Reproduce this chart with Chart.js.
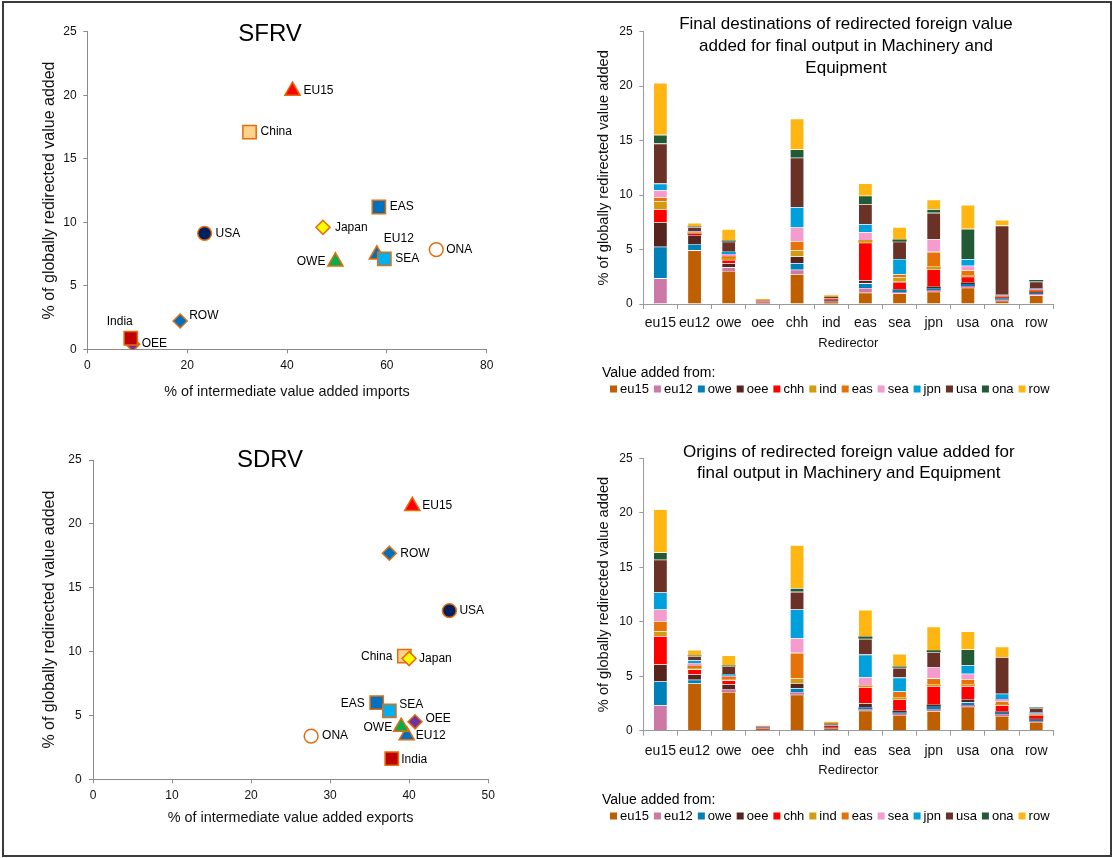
<!DOCTYPE html>
<html>
<head>
<meta charset="utf-8">
<script src="https://cdn.jsdelivr.net/npm/chart.js@4.4.1/dist/chart.umd.min.js"></script>
<style>
  html, body { margin: 0; padding: 0; background: #fff; }
  #wrap { position: relative; width: 1114px; height: 858px; overflow: hidden; background: #fff; }
  #frame { position: absolute; left: 2px; top: 1px; width: 1110px; height: 856px; border: 2px solid #3a3a3a; box-sizing: border-box; pointer-events: none; }
  canvas { position: absolute; }
</style>
</head>
<body>
<div id="wrap">
  <canvas id="sfrv" width="500" height="428" style="left:0;top:0"></canvas>
  <canvas id="dest" width="524" height="428" style="left:590px;top:0"></canvas>
  <canvas id="sdrv" width="500" height="428" style="left:0;top:430px"></canvas>
  <canvas id="orig" width="524" height="428" style="left:590px;top:430px"></canvas>
  <div id="frame"></div>
</div>
<script>
// ---- Scatter panels: regions and their coordinates ----
const countries   = ['EU15', 'EU12', 'OWE', 'OEE', 'China', 'India', 'EAS', 'SEA', 'Japan', 'USA', 'ONA', 'ROW'];
const sfrvImports = [41.1, 58.0, 49.7, 9.1, 32.5, 8.7, 58.4, 59.5, 47.2, 23.5, 69.9, 18.6];
const sfrvShare   = [20.35, 7.45, 6.9, 0.4, 17.1, 0.87, 11.2, 7.12, 9.6, 9.13, 7.85, 2.23];
const sdrvExports = [40.4, 39.7, 39.0, 40.75, 39.4, 37.8, 35.9, 37.5, 40.0, 45.1, 27.6, 37.5];
const sdrvShare   = [21.4, 3.45, 4.1, 4.5, 9.65, 1.62, 6.0, 5.35, 9.45, 13.2, 3.38, 17.7];
const sfrvTicksX  = [0, 20, 40, 60, 80];
const sdrvTicksX  = [0, 10, 20, 30, 40, 50];
const shareTicks  = [0, 5, 10, 15, 20, 25];

// ---- Bar panels: redirectors (categories) and value-added sources (series) ----
const redirectors   = ['eu15', 'eu12', 'owe', 'oee', 'chh', 'ind', 'eas', 'sea', 'jpn', 'usa', 'ona', 'row'];
const sourceRegions = ['eu15', 'eu12', 'owe', 'oee', 'chh', 'ind', 'eas', 'sea', 'jpn', 'usa', 'ona', 'row'];

// Final destinations: share contributed by each source, per redirector
const fdEu15 = [0, 4.93, 3.03, 0.10, 2.75, 0.15, 1.04, 0.98, 1.13, 1.50, 0.30, 0.80];
const fdEu12 = [2.36, 0, 0.34, 0.12, 0.40, 0.05, 0.43, 0.12, 0.15, 0.15, 0.09, 0.09];
const fdOwe  = [2.90, 0.58, 0, 0.02, 0.61, 0.05, 0.43, 0.18, 0.15, 0.18, 0.12, 0.12];
const fdOee  = [2.26, 0.83, 0.37, 0, 0.61, 0.08, 0.30, 0.06, 0.18, 0.15, 0.06, 0.06];
const fdChh  = [1.19, 0.12, 0.31, 0.02, 0, 0.10, 3.43, 0.70, 1.59, 0.52, 0.09, 0.09];
const fdInd  = [0.70, 0.05, 0.18, 0.01, 0.55, 0, 0.24, 0.40, 0.24, 0.15, 0.03, 0.03];
const fdEas  = [0.40, 0.05, 0.15, 0.01, 0.86, 0.05, 0, 0.31, 1.35, 0.46, 0.06, 0.09];
const fdSea  = [0.64, 0.10, 0.21, 0.01, 1.25, 0.04, 0.73, 0, 1.16, 0.40, 0.05, 0.09];
const fdJpn  = [0.61, 0.05, 0.21, 0.01, 1.87, 0.04, 0.73, 1.38, 0, 0.61, 0.04, 0.05];
const fdUsa  = [3.67, 0.34, 0.92, 0.04, 4.53, 0.08, 1.84, 1.59, 2.42, 0, 6.36, 0.64];
const fdOna  = [0.80, 0.06, 0.12, 0.01, 0.76, 0.02, 0.77, 0.21, 0.34, 2.78, 0, 0.15];
const fdRow  = [4.77, 0.34, 1.04, 0.10, 2.82, 0.14, 1.13, 1.13, 0.86, 2.20, 0.52, 0];

// Origins: share contributed by each source, per redirector
const orEu15 = [0, 4.34, 3.55, 0.15, 3.30, 0.15, 1.83, 1.44, 1.80, 2.20, 1.35, 0.80];
const orEu12 = [2.35, 0, 0.24, 0.08, 0.21, 0.06, 0.15, 0.12, 0.15, 0.15, 0.15, 0.09];
const orOwe  = [2.17, 0.34, 0, 0.04, 0.40, 0.05, 0.18, 0.12, 0.24, 0.28, 0.15, 0.12];
const orOee  = [1.59, 0.52, 0.49, 0, 0.46, 0.06, 0.34, 0.15, 0.21, 0.28, 0.12, 0.09];
const orChh  = [2.57, 0.43, 0.34, 0.04, 0, 0.10, 1.50, 1.04, 1.68, 1.19, 0.58, 0.24];
const orInd  = [0.43, 0.09, 0.09, 0.01, 0.43, 0, 0.15, 0.18, 0.15, 0.15, 0.09, 0.06];
const orEas  = [0.95, 0.24, 0.21, 0.02, 2.35, 0.06, 0, 0.55, 0.58, 0.49, 0.28, 0.09];
const orSea  = [1.07, 0.21, 0.12, 0.02, 1.35, 0.05, 0.76, 0, 1.04, 0.49, 0.18, 0.09];
const orJpn  = [1.56, 0.30, 0.15, 0.02, 2.63, 0.05, 2.08, 1.28, 0, 0.76, 0.49, 0.09];
const orUsa  = [3.00, 0.37, 0.70, 0.03, 1.62, 0.07, 1.44, 0.89, 1.35, 0, 3.37, 0.37];
const orOna  = [0.67, 0.06, 0.09, 0.01, 0.34, 0.02, 0.21, 0.12, 0.18, 1.47, 0, 0.09];
const orRow  = [3.94, 0.52, 0.92, 0.04, 3.94, 0.16, 2.45, 1.16, 2.17, 1.65, 0.95, 0];

const destinationSeries = [fdEu15, fdEu12, fdOwe, fdOee, fdChh, fdInd, fdEas, fdSea, fdJpn, fdUsa, fdOna, fdRow];
const originSeries      = [orEu15, orEu12, orOwe, orOee, orChh, orInd, orEas, orSea, orJpn, orUsa, orOna, orRow];

// ---- Styling ----
const FONT = "'Liberation Sans', Arial, Helvetica, sans-serif";
const TEXT = '#111';
const seriesColors = ['#C05F00', '#CC79A7', '#0080B8', '#56241C', '#FF0000', '#D49A10',
                      '#E8720A', '#F59CCF', '#00A0DC', '#6A3126', '#225A36', '#FFB612'];

const markerShapes = ['triangle', 'triangle', 'triangle', 'rectRot', 'rect', 'rect', 'rect', 'rect', 'rectRot', 'circle', 'circle', 'rectRot'];
const markerFills  = ['#FF0000', '#0070C0', '#00B050', '#7030A0', '#FBD38C', '#C00000', '#0070C0', '#00B0F0', '#FFFF00', '#002060', '#FFFFFF', '#0070C0'];
const markerRadii  = { triangle: 8.8, rect: 9.4, rectRot: 7.0, circle: 6.9 };
const markerEdge   = '#E46C0A';

// name label offsets around each marker (px)
const sfrvPlacement = [
  { dx: 11, dy: 0, align: 'left' },    // EU15
  { dx: 7, dy: -16, align: 'left' },   // EU12
  { dx: -10, dy: 0, align: 'right' },  // OWE
  { dx: 9, dy: -1, align: 'left' },    // OEE
  { dx: 11, dy: 0, align: 'left' },    // China
  { dx: -11, dy: -17, align: 'center' }, // India
  { dx: 11, dy: 0, align: 'left' },    // EAS
  { dx: 11, dy: 0, align: 'left' },    // SEA
  { dx: 12, dy: 0, align: 'left' },    // Japan
  { dx: 11, dy: 0, align: 'left' },    // USA
  { dx: 10, dy: 0, align: 'left' },    // ONA
  { dx: 9, dy: -5, align: 'left' }     // ROW
];
const sdrvPlacement = [
  { dx: 10, dy: 0, align: 'left' },    // EU15
  { dx: 9, dy: 0, align: 'left' },     // EU12
  { dx: -9, dy: 1, align: 'right' },   // OWE
  { dx: 10.5, dy: -3, align: 'left' }, // OEE
  { dx: -12, dy: 1, align: 'right' },  // China
  { dx: 9.5, dy: 1, align: 'left' },   // India
  { dx: -12, dy: 1, align: 'right' },  // EAS
  { dx: 10, dy: -6, align: 'left' },   // SEA
  { dx: 10, dy: 0, align: 'left' },    // Japan
  { dx: 10, dy: 0, align: 'left' },    // USA
  { dx: 11, dy: 0, align: 'left' },    // ONA
  { dx: 11, dy: 0, align: 'left' }     // ROW
];

Chart.defaults.font.family = FONT;
Chart.defaults.color = TEXT;

// Centered multi-line heading drawn over the plot area
function headingPlugin(lines, x, y, gap, size) {
  return {
    id: 'heading',
    afterDraw(chart) {
      const ctx = chart.ctx;
      ctx.save();
      ctx.font = size + 'px ' + FONT;
      ctx.fillStyle = '#000';
      ctx.textAlign = 'center';
      ctx.textBaseline = 'middle';
      lines.forEach((t, i) => ctx.fillText(t, x, y + i * gap));
      ctx.restore();
    }
  };
}

// Region names next to the scatter markers
function pointNamesPlugin(names, placement) {
  return {
    id: 'pointNames',
    afterDatasetsDraw(chart) {
      const ctx = chart.ctx;
      const meta = chart.getDatasetMeta(0);
      ctx.save();
      ctx.font = '12px ' + FONT;
      ctx.fillStyle = '#000';
      ctx.textBaseline = 'middle';
      meta.data.forEach((pt, i) => {
        const p = placement[i];
        ctx.textAlign = p.align;
        ctx.fillText(names[i], pt.x + p.dx, pt.y + p.dy);
      });
      ctx.restore();
    }
  };
}

// Single-row swatch legend built from the chart's datasets
function swatchLegendPlugin(title, titleX, titleY, itemX, itemY) {
  return {
    id: 'swatchLegend',
    afterDraw(chart) {
      const ctx = chart.ctx;
      ctx.save();
      ctx.textBaseline = 'middle';
      ctx.textAlign = 'left';
      ctx.fillStyle = '#000';
      ctx.font = '14px ' + FONT;
      ctx.fillText(title, titleX, titleY);
      ctx.font = '13px ' + FONT;
      let x = itemX;
      chart.data.datasets.forEach(ds => {
        ctx.fillStyle = ds.backgroundColor;
        ctx.fillRect(x, itemY - 3.5, 7, 7);
        ctx.fillStyle = '#000';
        ctx.fillText(ds.label, x + 10, itemY);
        x += 10 + ctx.measureText(ds.label).width + 5;
      });
      ctx.restore();
    }
  };
}

function scatterPanel(id, xs, ys, g) {
  const axisGray = '#8a8a8a';
  return new Chart(document.getElementById(id), {
    type: 'scatter',
    data: {
      datasets: [{
        data: xs.map((x, i) => ({ x: x, y: ys[i] })),
        pointStyle: markerShapes,
        pointRadius: markerShapes.map(s => markerRadii[s]),
        pointHoverRadius: markerShapes.map(s => markerRadii[s]),
        pointBackgroundColor: markerFills,
        pointBorderColor: markerEdge,
        pointBorderWidth: 1.5,
        backgroundColor: markerFills,
        borderColor: markerEdge
      }]
    },
    options: {
      responsive: false,
      animation: false,
      devicePixelRatio: 1,
      layout: { padding: { left: 0, top: g.top, right: g.right, bottom: g.bottom } },
      plugins: { legend: { display: false }, tooltip: { enabled: false } },
      scales: {
        x: {
          type: 'linear', min: g.xTicks[0], max: g.xTicks[g.xTicks.length - 1],
          afterBuildTicks: s => { s.ticks = g.xTicks.map(v => ({ value: v })); },
          ticks: { font: { size: 12 }, padding: g.xTickPad, color: TEXT },
          grid: { drawOnChartArea: false, tickLength: 4, color: axisGray },
          border: { color: axisGray, width: 1 },
          title: { display: true, text: g.xTitle, font: { size: 14.4 }, color: TEXT, padding: { top: 0, bottom: 0 } },
          afterFit: s => { s.height = g.xHeight; }
        },
        y: {
          type: 'linear', min: 0, max: 25,
          afterBuildTicks: s => { s.ticks = shareTicks.map(v => ({ value: v })); },
          ticks: { font: { size: 12 }, padding: g.yTickPad, color: TEXT },
          grid: { drawOnChartArea: false, tickLength: 4, color: axisGray },
          border: { color: axisGray, width: 1 },
          title: { display: true, text: '% of globally redirected value added', font: { size: 16 }, color: TEXT, padding: { top: g.yTitlePad, bottom: 0 } },
          afterFit: s => { s.width = g.yWidth; }
        }
      }
    },
    plugins: [headingPlugin([g.heading], 270, g.headingY, 0, 24), pointNamesPlugin(countries, g.placement)]
  });
}

function barPanel(id, series, g) {
  const axisGray = '#9a9a9a';
  const datasets = sourceRegions.map((name, i) => ({
    label: name,
    data: series[i],
    backgroundColor: seriesColors[i],
    borderColor: 'rgba(255,255,255,0.45)',
    // thin light edge on each segment, dropped on the very thin ones so their colour shows
    borderWidth: ctx => (ctx.raw >= 0.25 ? 0.6 : 0),
    categoryPercentage: 1,
    barPercentage: 0.41
  }));
  return new Chart(document.getElementById(id), {
    type: 'bar',
    data: { labels: redirectors, datasets: datasets },
    options: {
      responsive: false,
      animation: false,
      devicePixelRatio: 1,
      layout: { padding: { left: 0, top: g.top, right: 60.7, bottom: g.bottom } },
      plugins: { legend: { display: false }, tooltip: { enabled: false } },
      scales: {
        x: {
          stacked: true,
          ticks: { font: { size: 14 }, padding: g.xTickPad, maxRotation: 0, minRotation: 0, autoSkip: false, color: TEXT },
          grid: { offset: true, drawOnChartArea: false, tickLength: 5, color: axisGray },
          border: { color: axisGray, width: 1 },
          title: { display: true, text: 'Redirector', font: { size: 13 }, color: TEXT, padding: { top: 0, bottom: 0 } },
          afterFit: s => { s.height = g.xHeight; }
        },
        y: {
          stacked: true, min: 0, max: 25,
          afterBuildTicks: s => { s.ticks = shareTicks.map(v => ({ value: v })); },
          ticks: { font: { size: 12 }, padding: 6.6, color: TEXT },
          grid: { drawOnChartArea: false, tickLength: 4, color: axisGray },
          border: { color: axisGray, width: 1 },
          title: { display: true, text: '% of globally redirected value added', font: { size: 14.6 }, color: TEXT, padding: { top: 5.3, bottom: 0 } },
          afterFit: s => { s.width = 53.3; }
        }
      }
    },
    plugins: [
      headingPlugin(g.heading, g.headingX, g.headingY, g.headingGap, 17),
      swatchLegendPlugin('Value added from:', 12, g.legendTitleY, 20, g.legendItemY)
    ]
  });
}

scatterPanel('sfrv', sfrvImports, sfrvShare, {
  heading: 'SFRV', headingY: 34.2,
  xTicks: sfrvTicksX, xTitle: '% of intermediate value added imports',
  top: 31.7, right: 13.3, bottom: 27.7, xHeight: 51, yWidth: 87.3,
  xTickPad: 5.5, yTickPad: 6.6, yTitlePad: 40.4,
  placement: sfrvPlacement
});

scatterPanel('sdrv', sdrvExports, sdrvShare, {
  heading: 'SDRV', headingY: 30.8,
  xTicks: sdrvTicksX, xTitle: '% of intermediate value added exports',
  top: 30, right: 11.3, bottom: 31.1, xHeight: 47.6, yWidth: 93,
  xTickPad: 5.2, yTickPad: 7.3, yTitlePad: 40.4,
  placement: sdrvPlacement
});

barPanel('dest', destinationSeries, {
  heading: ['Final destinations of redirected foreign value', 'added for final output in Machinery and', 'Equipment'],
  headingX: 256, headingY: 24.5, headingGap: 22,
  top: 31.7, bottom: 77.2, xHeight: 46.8, xTickPad: 5.9,
  legendTitleY: 373, legendItemY: 389
});

barPanel('orig', originSeries, {
  heading: ['Origins of redirected foreign value added for', 'final output in Machinery and Equipment'],
  headingX: 258.8, headingY: 22, headingGap: 21.7,
  top: 28.3, bottom: 80.2, xHeight: 47.1, xTickPad: 6.6,
  legendTitleY: 370, legendItemY: 386
});
</script>
</body>
</html>
